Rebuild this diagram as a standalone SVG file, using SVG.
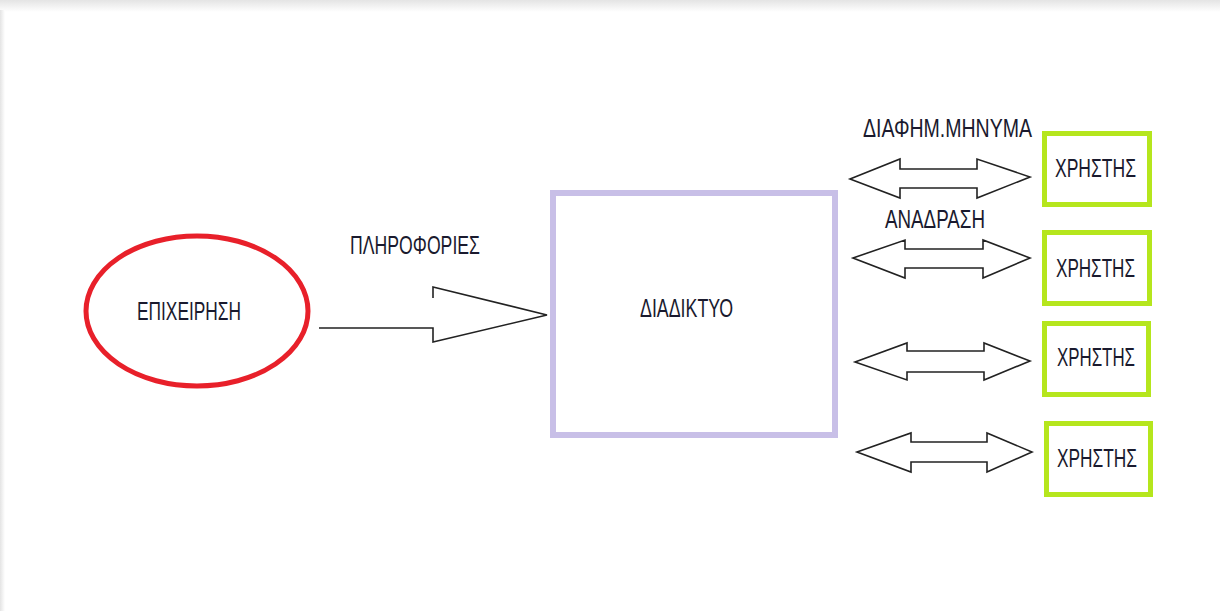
<svg xmlns="http://www.w3.org/2000/svg" width="1220" height="611" viewBox="0 0 1220 611">
  <defs>
    <linearGradient id="topShade" x1="0" y1="0" x2="0" y2="1">
      <stop offset="0" stop-color="#e4e4e4"/>
      <stop offset="1" stop-color="#ffffff"/>
    </linearGradient>
    <linearGradient id="leftShade" x1="0" y1="0" x2="1" y2="0">
      <stop offset="0" stop-color="#e4e4e4"/>
      <stop offset="1" stop-color="#ffffff"/>
    </linearGradient>
  </defs>
  <style>
    .lbl { font-family: "Liberation Sans", "DejaVu Sans", sans-serif; font-size: 26px; fill: #1a1a2e; }
    .arrow { fill: none; stroke: #222; stroke-width: 1.6; stroke-linejoin: miter; }
    .user { fill: none; stroke: #b5e61d; stroke-width: 5; }
  </style>
  <rect x="0" y="0" width="1220" height="611" fill="#ffffff"/>
  <rect x="0" y="0" width="1220" height="12" fill="url(#topShade)"/>
  <rect x="0" y="10" width="5" height="601" fill="url(#leftShade)"/>

  <g id="connectors">
    <path id="info-arrow" class="arrow" d="M319,328 H433 V342 L547,315 L433,287 V298"/>
    <path id="arrow1" class="arrow" d="M850,179 L900,159 V169 H977 V159 L1030,177 L977,198 V188 H900 V198 Z"/>
    <path id="arrow2" class="arrow" d="M853,258 L905,240 V249 H983 V240 L1030,258 L983,278 V268 H905 V278 Z"/>
    <path id="arrow3" class="arrow" d="M855,362 L907,343 V351 H984 V343 L1030,361 L984,380 V372 H907 V380 Z"/>
    <path id="arrow4" class="arrow" d="M857,452 L911,433 V442 H987 V433 L1032,452 L987,472 V462 H911 V472 Z"/>
    <text class="lbl" x="350" y="254" textLength="130" lengthAdjust="spacingAndGlyphs">ΠΛΗΡΟΦΟΡΙΕΣ</text>
    <text class="lbl" x="863" y="137" textLength="169" lengthAdjust="spacingAndGlyphs">ΔΙΑΦΗΜ.ΜΗΝΥΜΑ</text>
    <text class="lbl" x="885" y="228" textLength="100" lengthAdjust="spacingAndGlyphs">ΑΝΑΔΡΑΣΗ</text>
  </g>

  <g id="business">
    <ellipse cx="197" cy="311" rx="111" ry="75" fill="none" stroke="#e8202a" stroke-width="5"/>
    <text class="lbl" x="137" y="320" textLength="104" lengthAdjust="spacingAndGlyphs">ΕΠΙΧΕΙΡΗΣΗ</text>
  </g>

  <g id="internet">
    <rect x="553" y="193" width="282" height="242" fill="none" stroke="#c8bfe7" stroke-width="6"/>
    <text class="lbl" x="640" y="317" textLength="93" lengthAdjust="spacingAndGlyphs">ΔΙΑΔΙΚΤΥΟ</text>
  </g>

  <g id="user1">
    <rect class="user" x="1044.5" y="133.5" width="105" height="71"/>
    <text class="lbl" x="1055" y="177" textLength="81" lengthAdjust="spacingAndGlyphs">ΧΡΗΣΤΗΣ</text>
  </g>
  <g id="user2">
    <rect class="user" x="1044.5" y="232.5" width="105" height="71"/>
    <text class="lbl" x="1056" y="277" textLength="79" lengthAdjust="spacingAndGlyphs">ΧΡΗΣΤΗΣ</text>
  </g>
  <g id="user3">
    <rect class="user" x="1044.5" y="323.5" width="104" height="71"/>
    <text class="lbl" x="1057" y="366" textLength="78" lengthAdjust="spacingAndGlyphs">ΧΡΗΣΤΗΣ</text>
  </g>
  <g id="user4">
    <rect class="user" x="1046.5" y="423.5" width="104" height="71"/>
    <text class="lbl" x="1057" y="467" textLength="80" lengthAdjust="spacingAndGlyphs">ΧΡΗΣΤΗΣ</text>
  </g>
</svg>
